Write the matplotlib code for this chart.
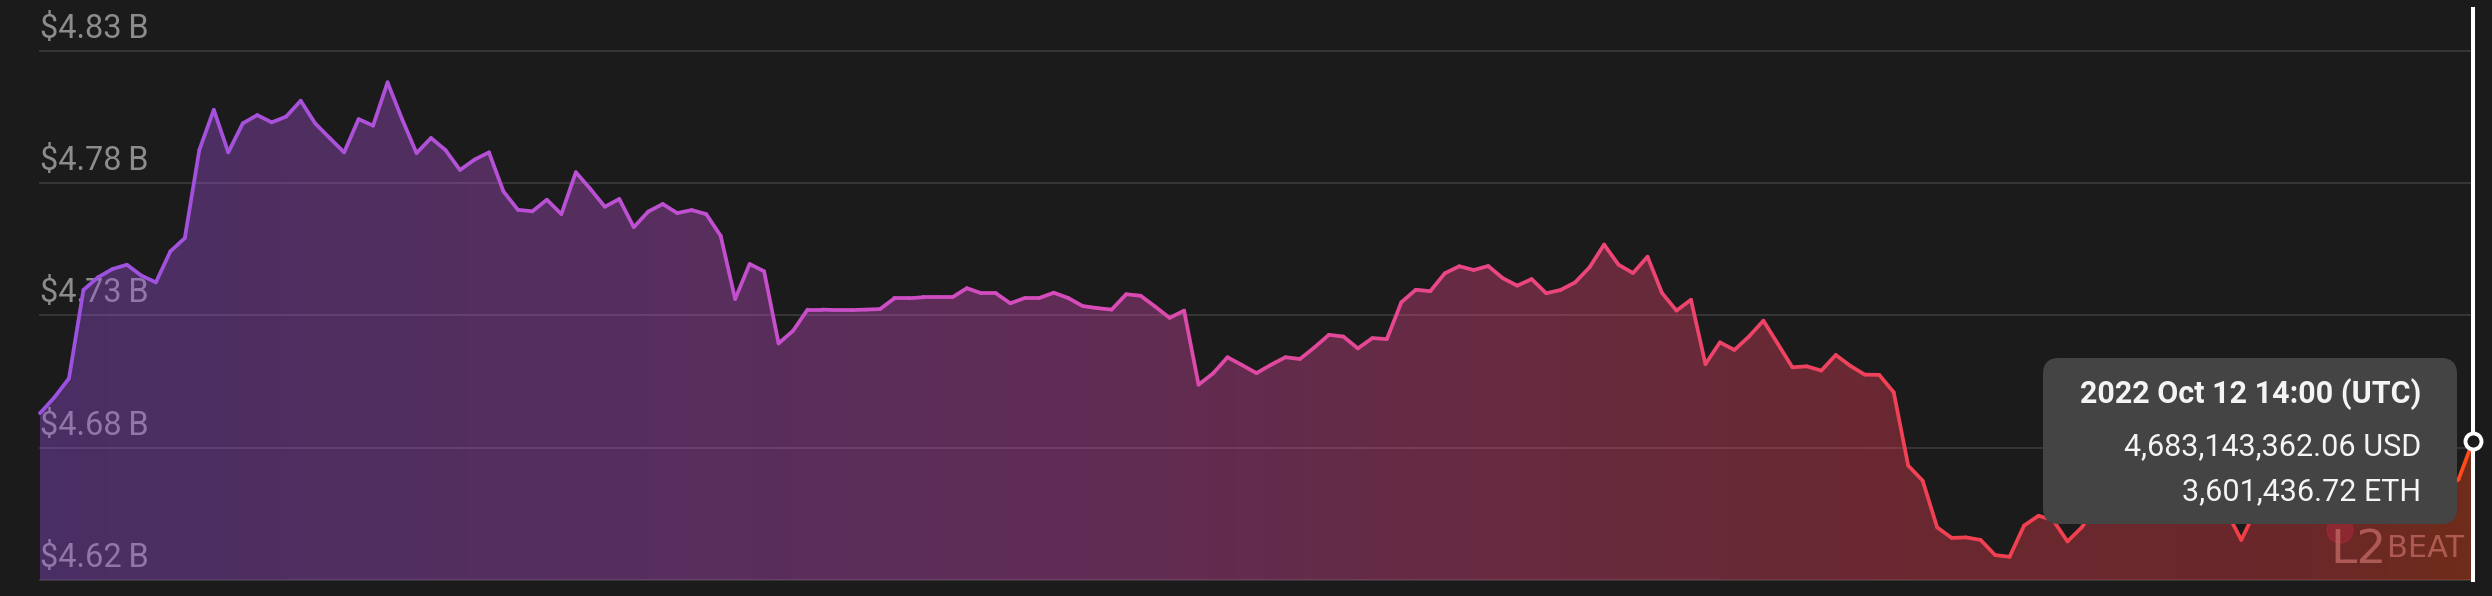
import numpy as np
import matplotlib.pyplot as plt
import matplotlib.transforms as mtransforms
from matplotlib.colors import LinearSegmentedColormap
from matplotlib.collections import LineCollection
from matplotlib.patches import FancyBboxPatch, Circle

# total value locked, $B, hourly points
tvl = [
    4.6912, 4.6975, 4.7050, 4.7401, 4.7451, 4.7484, 4.7501, 4.7458, 4.7431, 4.7554,
    4.7607, 4.7956, 4.8116, 4.7947, 4.8062, 4.8095, 4.8066, 4.8089, 4.8152, 4.8062,
    4.8004, 4.7947, 4.8079, 4.8053, 4.8225, 4.8079, 4.7944, 4.8004, 4.7956, 4.7877,
    4.7918, 4.7947, 4.7792, 4.7719, 4.7713, 4.7759, 4.7702, 4.7868, 4.7802, 4.7731,
    4.7762, 4.7650, 4.7712, 4.7742, 4.7706, 4.7718, 4.7702, 4.7616, 4.7365, 4.7504,
    4.7475, 4.7189, 4.7239, 4.7323, 4.7323, 4.7321, 4.7321, 4.7323, 4.7325, 4.7368,
    4.7368, 4.7372, 4.7372, 4.7372, 4.7408, 4.7388, 4.7388, 4.7348, 4.7369, 4.7369,
    4.7390, 4.7369, 4.7337, 4.7329, 4.7323, 4.7384, 4.7378, 4.7335, 4.7290, 4.7319,
    4.7025, 4.7070, 4.7134, 4.7103, 4.7071, 4.7104, 4.7134, 4.7127, 4.7173, 4.7223,
    4.7216, 4.7169, 4.7210, 4.7206, 4.7352, 4.7402, 4.7396, 4.7467, 4.7495, 4.7480,
    4.7496, 4.7448, 4.7418, 4.7444, 4.7388, 4.7401, 4.7431, 4.7491, 4.7581, 4.7501,
    4.7468, 4.7533, 4.7389, 4.7319, 4.7362, 4.7107, 4.7193, 4.7163, 4.7216, 4.7279,
    4.7187, 4.7094, 4.7098, 4.7081, 4.7143, 4.7100, 4.7065, 4.7064, 4.6995, 4.6704,
    4.6644, 4.6459, 4.6417, 4.6419, 4.6409, 4.6349, 4.6342, 4.6466, 4.6505, 4.6488,
    4.6403, 4.6460, 4.6548, 4.6575, 4.6599, 4.6567, 4.6615, 4.6587, 4.6627, 4.6607,
    4.6567, 4.6520, 4.6409, 4.6528, 4.6587, 4.6567, 4.6615, 4.6599, 4.6627, 4.6587,
    4.6607, 4.6575, 4.6615, 4.6599, 4.6627, 4.6607, 4.6619, 4.6649, 4.6802,
]
grid_vals = [4.625, 4.6775, 4.73, 4.7825, 4.835]
grid_labels = ["$4.62\u2009B", "$4.68\u2009B", "$4.73\u2009B", "$4.78\u2009B", "$4.83\u2009B"]

tooltip_title = "2022 Oct 12 14:00 (UTC)"
tooltip_lines = ["4,683,143,362.06 USD", "3,601,436.72 ETH"]

BG = "#1b1b1b"
W, H = 2492, 596
FONT = ["Roboto", "DejaVu Sans"]

cmap = LinearSegmentedColormap.from_list("l2", [
    (0.0, "#9a52e0"),
    (0.25, "#bf50d2"),
    (0.43, "#d84bb9"),
    (0.6, "#eb4682"),
    (0.77, "#f04155"),
    (0.93, "#f43e45"),
    (1.0, "#ff4a1a"),
])

fig = plt.figure(figsize=(W / 100, H / 100), dpi=100, facecolor=BG)
ax = fig.add_axes([40 / W, (H - 580) / H, (2473 - 40) / W, (580 - 9) / H])
ax.set_facecolor(BG)
for s in ax.spines.values():
    s.set_visible(False)
ax.set_xticks([])
ax.set_yticks([])

n = len(tvl)
x = np.arange(n)
y = np.array(tvl)
ymin = grid_vals[0]
ymax = ymin + 571 * (grid_vals[1] - grid_vals[0]) / 132.3

# grid + labels (sit under the translucent fill)
lab_trans = mtransforms.offset_copy(
    mtransforms.blended_transform_factory(ax.transAxes, ax.transData),
    fig=fig, y=13, units="dots")
for v, lab in zip(grid_vals, grid_labels):
    ax.axhline(v, color="#3a3a3a", lw=1.3, zorder=0.5, clip_on=False)
    ax.text(0, v, lab, transform=lab_trans, ha="left", va="baseline",
            fontsize=23.5, family=FONT, color="#8c8c8c", zorder=1)

# gradient fill clipped to the area under the line
poly = ax.fill_between(x, y, ymin, facecolor="none", edgecolor="none")
grad = np.linspace(0, 1, 512).reshape(1, -1)
im = ax.imshow(grad, extent=[0, n - 1, ymin, ymax], aspect="auto",
               cmap=cmap, alpha=0.37, origin="lower", zorder=2)
im.set_clip_path(poly.get_paths()[0], transform=ax.transData)

# gradient line
pts = np.column_stack([x, y])
segs = np.stack([pts[:-1], pts[1:]], axis=1)
lc = LineCollection(segs, colors=cmap((x[:-1] + 0.5) / (n - 1)), linewidths=2.7,
                    capstyle="round", joinstyle="round", zorder=3, clip_on=False)
ax.add_collection(lc)

ax.set_xlim(0, n - 1)
ax.set_ylim(ymin, ymax)

# hover cursor
ax.axvline(n - 1, color="white", lw=2.9, zorder=4, clip_on=False)
ax.plot(n - 1, y[-1], "o", ms=11.5, mfc=BG, mec="white", mew=2.8,
        zorder=5, clip_on=False)

# overlay in pixel coords for watermark and tooltip
ov = fig.add_axes([0, 0, 1, 1])
ov.set_xlim(0, W)
ov.set_ylim(H, 0)
ov.axis("off")
ov.patch.set_alpha(0)

logo_font = ["Liberation Sans Narrow", "DejaVu Sans"]
ov.add_patch(Circle((2340, 530), 13, color="#a8283a", alpha=0.55, zorder=1))
ov.text(2330, 563, "L2", fontsize=34, family=logo_font,
        color="#c46a66", alpha=0.75, ha="left", va="baseline", zorder=2)
ov.text(2387, 557, "BEAT", fontsize=22, family=logo_font,
        color="#c46a66", alpha=0.75, ha="left", va="baseline", zorder=2)

ov.add_patch(FancyBboxPatch((2043, 358), 414, 166,
                            boxstyle="round,pad=0,rounding_size=16",
                            fc="#444444", ec="none", zorder=5))
ov.text(2421, 403, tooltip_title, ha="right", va="baseline", fontsize=22,
        fontweight="bold", family=FONT, color="#f4f4f4", zorder=6)
for yy, t in zip([455, 500], tooltip_lines):
    ov.text(2421, yy, t, ha="right", va="baseline", fontsize=22,
            family=FONT, color="#f4f4f4", zorder=6)

fig.savefig("out.png", dpi=100, facecolor=BG)
